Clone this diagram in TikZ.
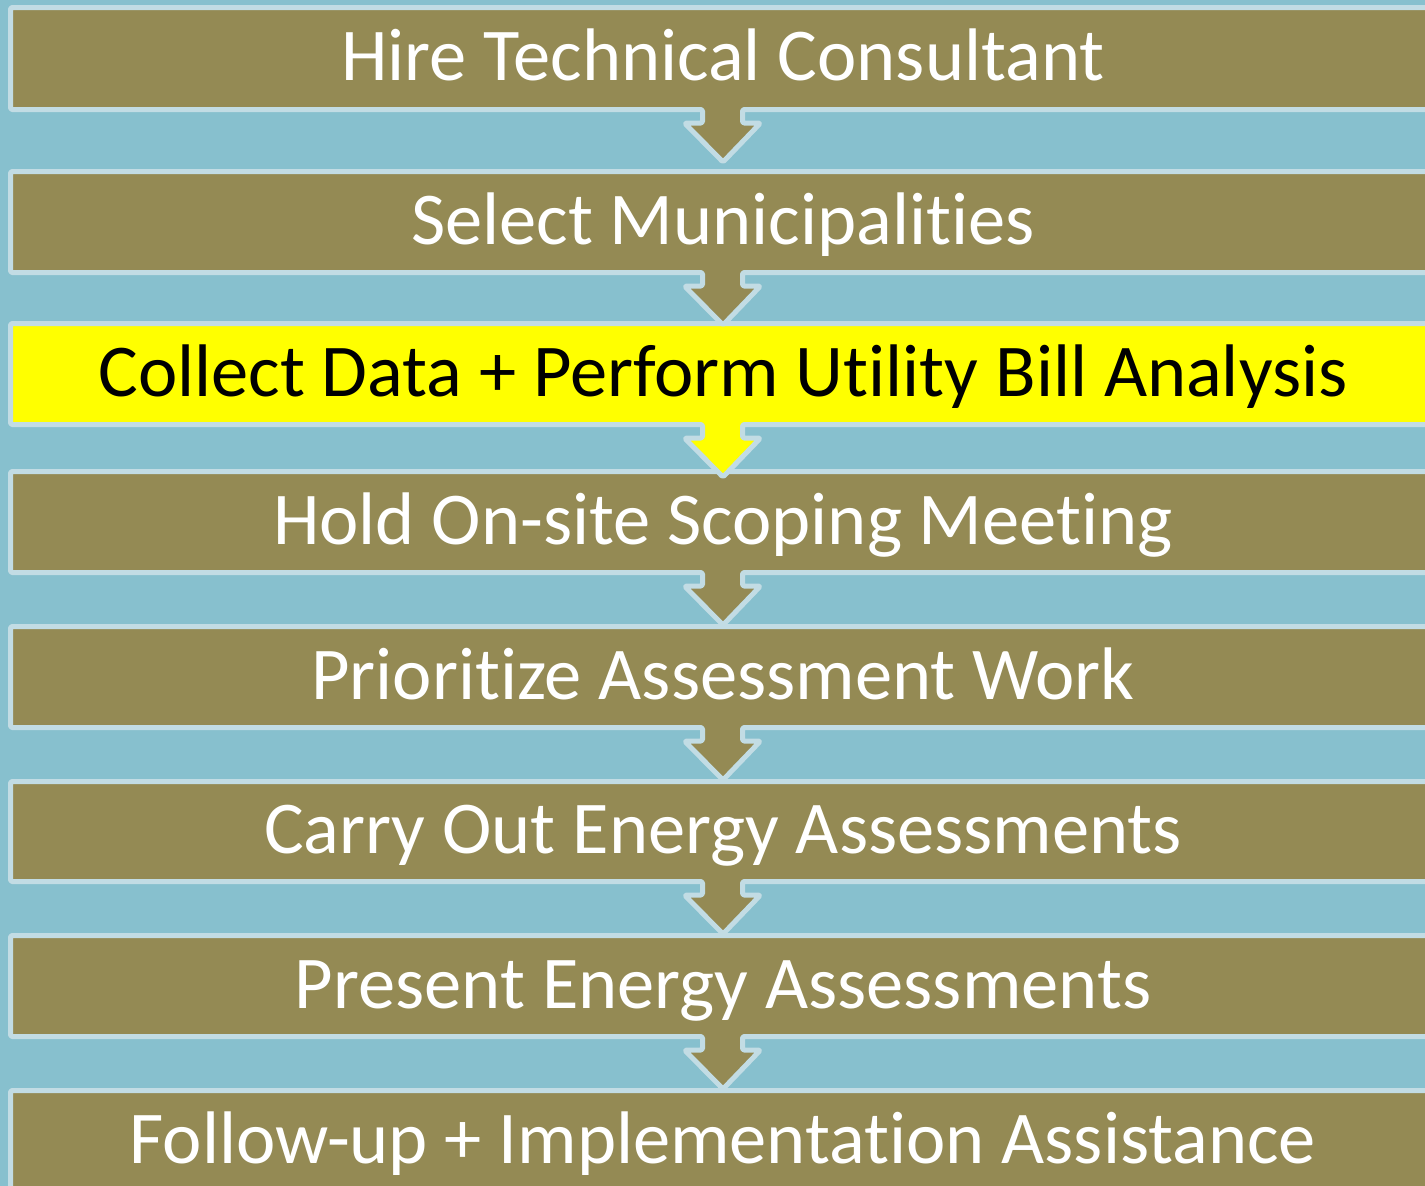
\documentclass[tikz,border=0pt]{standalone}
\usepackage{fontspec}
\setmainfont{Carlito}[Ligatures={NoCommon,NoRare}]
\definecolor{bgblue}{RGB}{135,192,206}
\definecolor{barolive}{RGB}{148,138,84}
\definecolor{baredge}{RGB}{194,220,228}
\definecolor{hilite}{RGB}{255,255,0}
% #1 top (border centre), #2 bottom (border centre), #3 fill colour, #4 with arrow (1/0)
\newcommand{\flowbar}[4]{%
  \ifnum#4=1
    \filldraw[barshape, fill=#3]
      (10.5,#1) -- (1445,#1) -- (1445,#2) -- (742.5,#2) -- (742.5,#2+13.5)
      -- (760.5,#2+13.5) -- (723,#2+52.5) -- (684.5,#2+13.5) -- (702.5,#2+13.5)
      -- (702.5,#2) -- (10.5,#2) -- cycle;
  \else
    \filldraw[barshape, fill=#3] (10.5,#1) rectangle (1445,#2);
  \fi}
\begin{document}
\begin{tikzpicture}[x=1pt,y=-1pt,
  barshape/.style={draw=baredge, line width=5pt, line join=round, rounded corners=1.5pt},
  steptext/.style={anchor=base, text=white, font=\fontsize{74.5}{80}\selectfont, inner sep=0pt},
  hitext/.style={steptext, text=black}]
\useasboundingbox (0,0) rectangle (1425,1186);
\fill[bgblue] (0,0) rectangle (1425,1186);
\begin{scope}
\clip (0,0) rectangle (1425,1186);
\flowbar{1090.5}{1200}{barolive}{0}
\flowbar{935.5}{1036.5}{barolive}{1}
\flowbar{781.5}{881.5}{barolive}{1}
\flowbar{626.5}{727.5}{barolive}{1}
\flowbar{471.5}{572.5}{barolive}{1}
\flowbar{323.5}{424.5}{hilite}{1}
\flowbar{171.5}{272.5}{barolive}{1}
\flowbar{7.5}{109.5}{barolive}{1}
\end{scope}
\node[steptext] (s1) at (723,80) {Hire Technical Consultant};
\node[steptext] (s2) at (723,244) {Select Municipalities};
\node[hitext]   (s3) at (723,396) {Collect Data + Perform Utility Bill Analysis};
\node[steptext] (s4) at (723,544) {Hold On-site Scoping Meeting};
\node[steptext] (s5) at (723,699) {Prioritize Assessment Work};
\node[steptext] (s6) at (723,853) {Carry Out Energy Assessments};
\node[steptext] (s7) at (723,1008) {Present Energy Assessments};
\node[steptext] (s8) at (723,1163) {Follow-up + Implementation Assistance};
\end{tikzpicture}
\end{document}
